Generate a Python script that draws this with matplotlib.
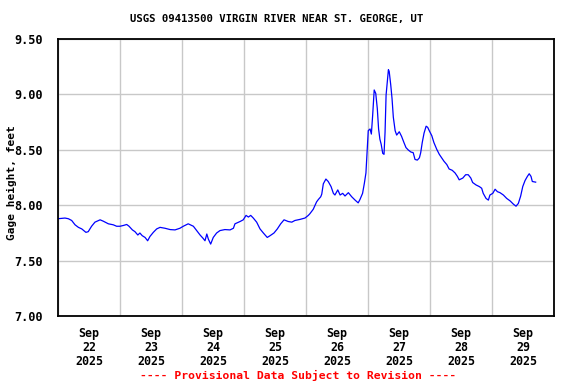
import matplotlib
matplotlib.use("Agg")
import matplotlib.pyplot as plt
import numpy as np

# hours since 2025-09-22 00:00, gage height (feet)
hours = [0, 2.7, 4.0, 5.3, 6.6, 7.9, 9.2, 10.8, 11.7, 13.0, 14.3, 16.3, 17.5, 19.5,
         21.4, 22.7, 24.0, 25.3, 26.6, 27.5, 28.8, 29.8, 30.9, 31.7, 32.6, 33.7,
         34.7, 35.6, 36.9, 38.2, 39.5, 41.4, 43.4, 45.3, 47.2, 48.5,
         50.4, 52.4, 53.7, 55.0, 56.2, 56.9, 57.6, 58.2, 59.1, 60.1, 61.4, 62.7,
         64.6, 66.6, 67.9, 68.5, 70.5, 71.7, 72.8, 73.7, 74.6, 75.6, 76.9, 78.2,
         79.5, 81.0, 82.1, 83.6, 84.9, 86.2, 87.5, 89.1, 90.5, 91.7, 93.7, 95.6,
         96.9, 97.5,
         98.8, 100.1, 100.8, 101.7, 102.1, 102.7, 103.7, 104.6, 105.7, 106.6,
         107.2, 108.3, 109.2, 110.2, 111.1, 112.4, 113.7, 115.0, 116.2, 116.9,
         117.9, 118.6, 119.2, 119.7, 120.1, 120.8, 121.3, 121.8, 122.4, 123.0,
         123.6, 124.1, 124.6, 125.1, 125.7, 126.2, 126.6, 127.0, 127.5, 127.9,
         128.2, 128.8, 129.3, 129.8, 130.5, 131.1, 132.1, 133.0, 133.9, 134.7,
         135.6, 136.6, 137.5, 138.2, 139.1, 139.9, 140.4, 141.0, 141.7, 142.5,
         143.1, 143.7, 144.7, 145.5, 146.6, 147.6, 148.5, 149.4, 150.5, 151.4,
         152.6, 153.7, 154.6, 155.3, 156.7, 157.8, 158.8, 159.8, 160.5, 161.8,
         163.1, 164.0, 164.6, 165.7, 166.6, 167.2, 168.3, 169.2, 170.1, 171.1,
         172.4, 173.7, 175.0, 176.3, 177.3, 178.2, 179.1, 179.9, 180.8, 181.7,
         182.4, 183.1, 183.6, 184.9]
height = [7.878, 7.884, 7.878, 7.862, 7.823, 7.800, 7.786, 7.755, 7.761, 7.810,
          7.847, 7.868, 7.856, 7.832, 7.823, 7.810, 7.810, 7.817, 7.826, 7.810,
          7.777, 7.761, 7.731, 7.749, 7.725, 7.709, 7.679, 7.718, 7.755, 7.786,
          7.800, 7.792, 7.780, 7.777, 7.792, 7.810,
          7.832, 7.810, 7.771, 7.731, 7.700, 7.679, 7.740, 7.694, 7.649, 7.709,
          7.749, 7.771, 7.780, 7.777, 7.792, 7.832, 7.853, 7.868, 7.908, 7.893,
          7.908, 7.884, 7.847, 7.786, 7.749, 7.709, 7.725, 7.749, 7.786, 7.832,
          7.868, 7.853, 7.847, 7.862, 7.872, 7.884, 7.908, 7.923,
          7.963, 8.030, 8.052, 8.076, 8.100, 8.193, 8.236, 8.214, 8.168, 8.107,
          8.092, 8.138, 8.092, 8.107, 8.083, 8.113, 8.076, 8.046, 8.021, 8.052,
          8.107, 8.199, 8.291, 8.505, 8.673, 8.688, 8.642, 8.810, 9.040, 9.009,
          8.872, 8.688, 8.596, 8.550, 8.468, 8.459, 8.658, 8.994, 9.116, 9.223,
          9.208, 9.086, 8.963, 8.795, 8.673, 8.633, 8.663, 8.621, 8.566, 8.520,
          8.498, 8.480, 8.474, 8.413, 8.407, 8.428, 8.474, 8.566, 8.651, 8.713,
          8.703, 8.673, 8.627, 8.566, 8.505, 8.459, 8.428, 8.397, 8.367, 8.327,
          8.315, 8.291, 8.260, 8.229, 8.245, 8.275, 8.275, 8.245, 8.205, 8.183,
          8.168, 8.153, 8.107, 8.061, 8.046, 8.092, 8.107, 8.144, 8.122, 8.113,
          8.092, 8.061, 8.039, 8.009, 7.991, 8.016, 8.083, 8.168, 8.223, 8.260,
          8.284, 8.260, 8.214, 8.208]

day_labels = ["Sep\n22\n2025", "Sep\n23\n2025", "Sep\n24\n2025", "Sep\n25\n2025",
              "Sep\n26\n2025", "Sep\n27\n2025", "Sep\n28\n2025", "Sep\n29\n2025"]
y_ticks = [7.0, 7.5, 8.0, 8.5, 9.0, 9.5]

mono = "DejaVu Sans Mono"

fig = plt.figure(figsize=(5.76, 3.84), dpi=100)
ax = fig.add_axes([58 / 576, 1 - 316 / 384, 496 / 576, 277 / 384])

ax.plot(hours, height, color="#0000ff", lw=0.9)

ax.set_xlim(0, 192)
ax.set_ylim(7.0, 9.5)

# grid at midnight, labels at noon
ax.set_xticks(np.arange(0, 193, 24))
ax.set_xticklabels([])
ax.set_xticks(np.arange(12, 192, 24), minor=True)
ax.set_xticklabels(day_labels, minor=True, fontfamily=mono, fontweight="bold",
                   fontsize=8.4, linespacing=1.1)
ax.set_yticks(y_ticks)
ax.set_yticklabels(["%.2f" % v for v in y_ticks], fontfamily=mono,
                   fontweight="bold", fontsize=8.6)
ax.tick_params(axis="both", which="both", length=0)
ax.tick_params(axis="x", which="minor", pad=8)
ax.tick_params(axis="y", pad=11)

ax.grid(True, which="major", color="#c8c8c8", lw=1)
ax.set_axisbelow(True)
for s in ax.spines.values():
    s.set_linewidth(1.3)

fig.text(12 / 576, 1 - 183 / 384, "Gage height, feet", rotation=90,
         ha="center", va="center", fontfamily=mono, fontweight="bold", fontsize=8)
fig.text(276.5 / 576, 1 - 19 / 384,
         "USGS 09413500 VIRGIN RIVER NEAR ST. GEORGE, UT",
         ha="center", va="center", fontfamily=mono, fontweight="bold", fontsize=7.7)
fig.text(298 / 576, 1 - 375 / 384, "---- Provisional Data Subject to Revision ----",
         ha="center", va="center", color="red", fontfamily=mono,
         fontweight="bold", fontsize=8.2)

fig.savefig("out.png", dpi=100, facecolor="white")
